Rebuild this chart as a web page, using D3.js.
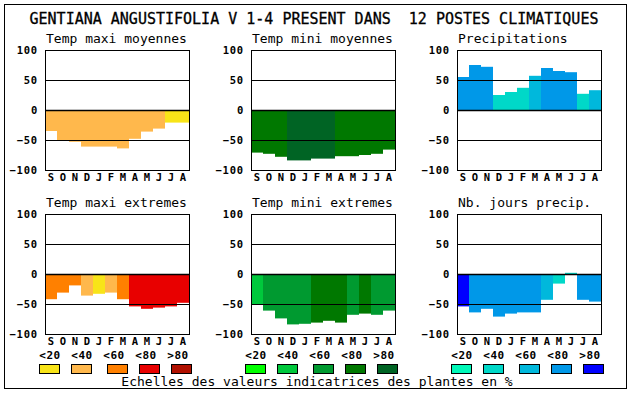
<!DOCTYPE html>
<html>
<head>
<meta charset="utf-8">
<script src="https://cdn.jsdelivr.net/npm/d3@7"></script>
<style>
  body { margin: 0; background: #fff; }
  text { font-family: 'DejaVu Sans Mono', monospace; white-space: pre; }
</style>
</head>
<body>
<script>
// months, september to august
const months = ['S', 'O', 'N', 'D', 'J', 'F', 'M', 'A', 'M', 'J', 'J', 'A'];
const tickValues = [100, 50, 0, -50, -100];
const classLabels = ['<20', '<40', '<60', '<80', '>80'];

const title = 'GENTIANA ANGUSTIFOLIA V 1-4 PRESENT DANS  12 POSTES CLIMATIQUES';
const footer = 'Echelles des valeurs indicatrices des plantes en %';

const redScale = ['#f8e418', '#ffb84c', '#ff8000', '#e80000', '#b01000'];
const greenScale = ['#00ff00', '#00c83c', '#009a30', '#007800', '#006424'];
const blueScale = ['#00f8b8', '#00d8c8', '#00b8dc', '#0098e8', '#0000ff'];

// values and class index (0..4) per month
const tmaxMoyValues = [-35, -50, -53, -61, -61, -61, -64, -48, -36, -31, -21, -21];
const tmaxMoyClass = [1, 1, 1, 1, 1, 1, 1, 1, 1, 1, 0, 0];
const tminMoyValues = [-71, -73, -78, -84, -84, -81, -81, -77, -77, -75, -73, -66];
const tminMoyClass = [3, 3, 3, 4, 4, 4, 4, 3, 3, 3, 3, 3];
const precValues = [55, 75, 72, 25, 30, 37, 57, 70, 65, 63, 27, 33];
const precClass = [3, 3, 3, 1, 1, 1, 2, 3, 3, 3, 1, 2];
const tmaxExtValues = [-42, -31, -19, -36, -33, -31, -42, -54, -58, -56, -54, -48];
const tmaxExtClass = [2, 2, 2, 1, 0, 1, 2, 3, 3, 3, 3, 3];
const tminExtValues = [-50, -61, -74, -84, -83, -81, -78, -81, -68, -66, -68, -61];
const tminExtClass = [1, 2, 2, 2, 2, 3, 3, 3, 2, 3, 2, 2];
const joursValues = [-54, -64, -58, -71, -66, -64, -64, -43, -16, 2, -43, -46];
const joursClass = [4, 3, 3, 3, 3, 3, 3, 2, 1, 1, 3, 3];

const panels = [
  { name: 'Temp maxi moyennes', values: tmaxMoyValues, cls: tmaxMoyClass, colors: redScale, col: 0, row: 0 },
  { name: 'Temp mini moyennes', values: tminMoyValues, cls: tminMoyClass, colors: greenScale, col: 1, row: 0 },
  { name: 'Precipitations', values: precValues, cls: precClass, colors: blueScale, col: 2, row: 0 },
  { name: 'Temp maxi extremes', values: tmaxExtValues, cls: tmaxExtClass, colors: redScale, col: 0, row: 1 },
  { name: 'Temp mini extremes', values: tminExtValues, cls: tminExtClass, colors: greenScale, col: 1, row: 1 },
  { name: 'Nb. jours precip.', values: joursValues, cls: joursClass, colors: blueScale, col: 2, row: 1 },
];
const legendScales = [redScale, greenScale, blueScale];

const width = 630;
const height = 394;
const plotW = 144;
const plotH = 120;
const colX = [45, 251, 457];
const rowY = [50, 214];

const svg = d3.select('body').append('svg')
  .attr('width', width)
  .attr('height', height);

// outer frame
svg.append('rect')
  .attr('x', 4.5).attr('y', 4.5)
  .attr('width', 622).attr('height', 384)
  .attr('fill', 'none').attr('stroke', '#000');

svg.append('text')
  .attr('x', 314).attr('y', 24)
  .attr('text-anchor', 'middle')
  .attr('font-size', 15)
  .attr('stroke', '#000').attr('stroke-width', 0.3)
  .text(title);

panels.forEach((p) => {
  const left = colX[p.col];
  const top = rowY[p.row];

  const x = d3.scaleBand()
    .domain(d3.range(months.length))
    .range([left, left + plotW]);

  const y = d3.scaleLinear()
    .domain([-100, 100])
    .range([top + plotH, top]);

  const g = svg.append('g');

  g.append('text')
    .attr('x', left + 1).attr('y', top - 7)
    .attr('font-size', 13)
    .text(p.name);

  // bars from zero
  g.append('g')
    .selectAll('rect')
    .data(p.values)
    .join('rect')
    .attr('x', (d, i) => x(i))
    .attr('y', (d) => y(Math.max(0, d)))
    .attr('width', x.bandwidth())
    .attr('height', (d) => Math.abs(y(d) - y(0)))
    .attr('fill', (d, i) => p.colors[p.cls[i]]);

  // horizontal reference lines
  g.append('g')
    .selectAll('line')
    .data([50, 0, -50])
    .join('line')
    .attr('x1', left).attr('x2', left + plotW)
    .attr('y1', (d) => Math.round(y(d)) + 0.5)
    .attr('y2', (d) => Math.round(y(d)) + 0.5)
    .attr('stroke', '#000')
    .attr('stroke-width', (d) => (d === 0 ? 1.5 : 1));

  g.append('rect')
    .attr('x', left + 0.5).attr('y', top + 0.5)
    .attr('width', plotW).attr('height', plotH)
    .attr('fill', 'none').attr('stroke', '#000');

  const gy = g.append('g')
    .attr('transform', `translate(${left},0)`)
    .call(d3.axisLeft(y).tickValues(tickValues).tickSize(0).tickPadding(7))
    .call((s) => s.select('.domain').remove());
  gy.selectAll('text')
    .attr('font-family', "'DejaVu Sans Mono', monospace")
    .attr('font-size', 10.5)
    .attr('font-weight', 'bold')
    .attr('letter-spacing', 0.8)
    .attr('fill', '#000');

  const gx = g.append('g')
    .attr('transform', `translate(0,${top + plotH})`)
    .call(d3.axisBottom(x).tickFormat((i) => months[i]).tickSize(0).tickPadding(4))
    .call((s) => s.select('.domain').remove());
  gx.selectAll('text')
    .attr('font-family', "'DejaVu Sans Mono', monospace")
    .attr('font-size', 10.5)
    .attr('font-weight', 'bold')
    .attr('fill', '#000');
});

// legends
const boxOffsets = [-6, 26, 62, 94, 126];
legendScales.forEach((colors, k) => {
  const left = colX[k];
  const lg = svg.append('g');
  lg.selectAll('text')
    .data(classLabels)
    .join('text')
    .attr('x', (d, i) => left + 5 + 32 * i)
    .attr('y', 359)
    .attr('text-anchor', 'middle')
    .attr('font-size', 11)
    .attr('font-weight', 'bold')
    .attr('letter-spacing', 0.5)
    .text((d) => d);
  lg.selectAll('rect')
    .data(colors)
    .join('rect')
    .attr('x', (d, i) => left + boxOffsets[i] + 0.5)
    .attr('y', 364.5)
    .attr('width', 20).attr('height', 9)
    .attr('fill', (d) => d)
    .attr('stroke', '#000');
});

svg.append('text')
  .attr('x', 317).attr('y', 386)
  .attr('text-anchor', 'middle')
  .attr('font-size', 13)
  .text(footer);
</script>
</body>
</html>
